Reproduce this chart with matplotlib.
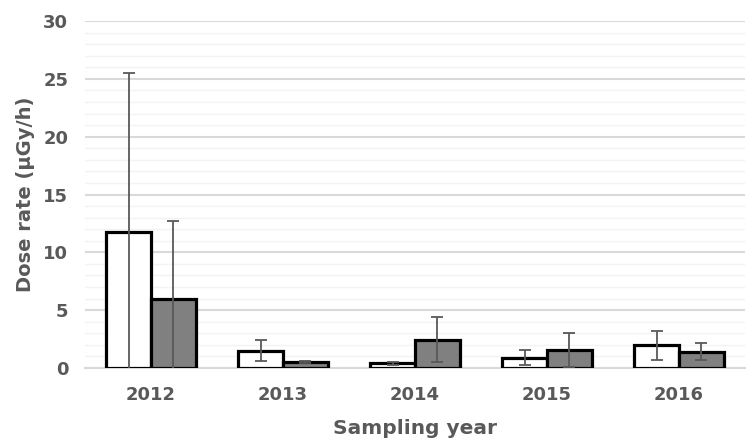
import numpy as np
import matplotlib.pyplot as plt

# Données : débit de dose moyen et écart-type par année
years = ['2012', '2013', '2014', '2015', '2016']
white_vals = [11.8, 1.5, 0.4, 0.9, 1.95]
white_err = [13.7, 0.9, 0.1, 0.65, 1.25]
grey_vals = [6.0, 0.5, 2.45, 1.55, 1.4]
grey_err = [6.7, 0.1, 1.95, 1.45, 0.72]

plt.rcParams['font.family'] = ['DejaVu Sans']
text_col = '#595959'

fig = plt.figure(figsize=(7.48, 4.46), dpi=100)
ax = fig.add_axes([0.1136, 0.1749, 0.8824, 0.778])

x = np.arange(len(years))
w = 0.34
err_kw = dict(ecolor='#595959', elinewidth=1.3, capsize=4, capthick=1.3)
ax.bar(x - w/2, white_vals, w, color='white', edgecolor='black', linewidth=2.3,
       yerr=white_err, error_kw=err_kw, zorder=3)
ax.bar(x + w/2, grey_vals, w, color='#808080', edgecolor='black', linewidth=2.3,
       yerr=grey_err, error_kw=err_kw, zorder=3)

ax.set_xlim(-0.5, 4.5)
ax.set_ylim(0, 30)
ax.set_yticks(np.arange(0, 31, 5))
ax.set_yticks(np.arange(0, 31, 1), minor=True)
ax.set_xticks(x)
ax.set_xticklabels(years)

# Grille majeure et mineure
ax.grid(axis='y', which='major', color='#d9d9d9', linewidth=1.5, zorder=0)
ax.grid(axis='y', which='minor', color='#f3f3f3', linewidth=1.0, zorder=0)
ax.set_axisbelow(True)

for s in ['top', 'right', 'left']:
    ax.spines[s].set_visible(False)
ax.spines['bottom'].set_color('#d9d9d9')
ax.spines['bottom'].set_linewidth(1.5)

ax.tick_params(axis='both', which='both', length=0, labelsize=13,
               labelcolor=text_col)
ax.tick_params(axis='y', pad=12)
ax.tick_params(axis='x', pad=13)
for lab in ax.get_xticklabels() + ax.get_yticklabels():
    lab.set_fontweight('bold')

ax.set_xlabel('Sampling year', fontsize=14.5, fontweight='bold', color=text_col,
              labelpad=11)
ax.set_ylabel('Dose rate (µGy/h)', fontsize=14, fontweight='bold', color=text_col,
              labelpad=6)

plt.savefig('out.png', dpi=100)
